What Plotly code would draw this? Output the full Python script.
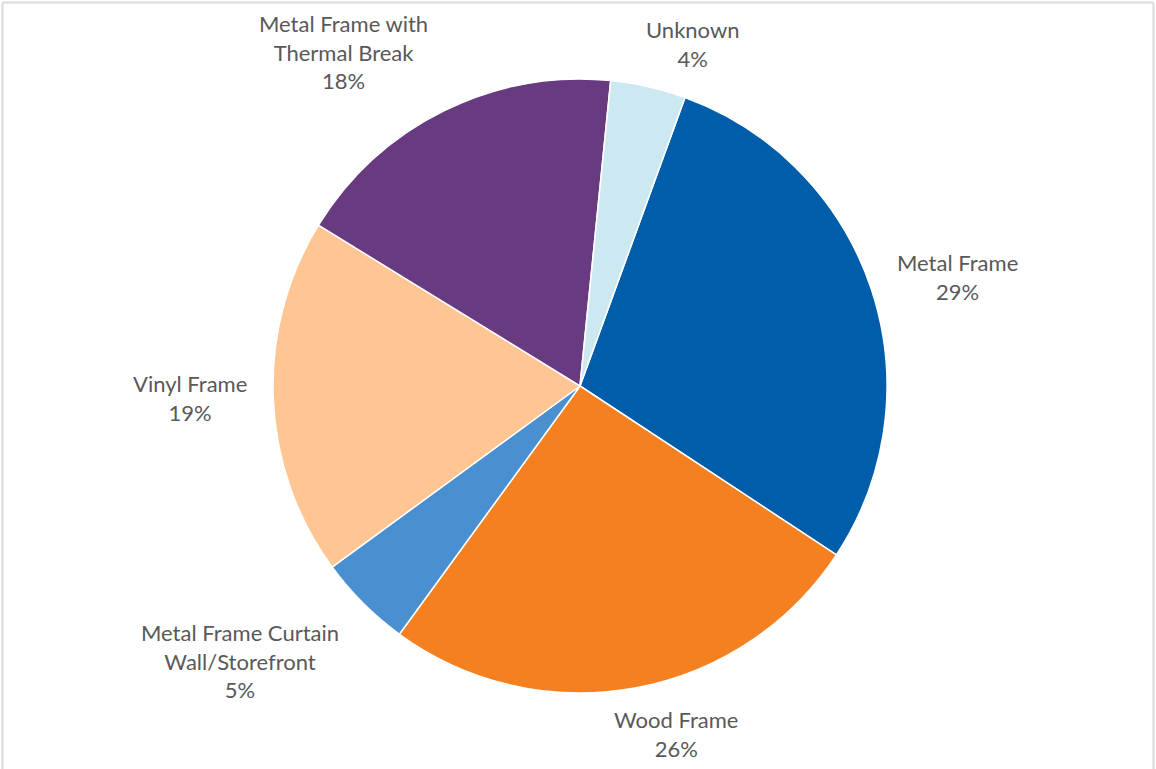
import plotly.graph_objects as go

# Window frame types, share of total
categories = [
    "Metal Frame",
    "Wood Frame",
    "Metal Frame Curtain<br>Wall/Storefront",
    "Vinyl Frame",
    "Metal Frame with<br>Thermal Break",
    "Unknown",
]
shares = [29, 26, 5, 19, 18, 4]
slice_colors = ["#005DAA", "#F48020", "#4A90D0", "#FFC593", "#683A80", "#CCE8F0"]

W, H = 1156, 769
cx, cy, r = 580, 386, 307

# data-label centres (pixels from top-left), one per category
label_pos = [(957, 277), (676, 734), (240, 661), (190, 398), (343, 52), (692, 44)]

fig = go.Figure(
    go.Pie(
        labels=categories,
        values=shares,
        sort=False,
        direction="clockwise",
        rotation=20,
        marker=dict(colors=slice_colors, line=dict(color="white", width=1.5)),
        textinfo="none",
        showlegend=False,
        hoverinfo="label+percent",
        domain=dict(
            x=[(cx - r) / W, (cx + r) / W],
            y=[1 - (cy + r) / H, 1 - (cy - r) / H],
        ),
    )
)

total = sum(shares)
annotations = []
for name, v, (px, py) in zip(categories, shares, label_pos):
    annotations.append(
        dict(
            text=f"{name}<br>{round(100 * v / total)}%",
            x=px / W,
            y=1 - py / H,
            xref="paper",
            yref="paper",
            xanchor="center",
            yanchor="middle",
            align="center",
            showarrow=False,
            font=dict(family="Lato", size=22, color="#595959"),
        )
    )

# light chart-area frame (top, left, right)
frame = dict(type="line", xref="paper", yref="paper", line=dict(color="#D9D9D9", width=2))
fig.update_layout(
    width=W,
    height=H,
    margin=dict(l=0, r=0, t=0, b=0),
    paper_bgcolor="white",
    plot_bgcolor="white",
    annotations=annotations,
    shapes=[
        dict(frame, x0=2.5 / W, x1=1 - 2.5 / W, y0=1 - 2.5 / H, y1=1 - 2.5 / H),
        dict(frame, x0=2.5 / W, x1=2.5 / W, y0=0, y1=1 - 2.5 / H),
        dict(frame, x0=1 - 2.5 / W, x1=1 - 2.5 / W, y0=0, y1=1 - 2.5 / H),
    ],
)

fig.write_html("out.html")
